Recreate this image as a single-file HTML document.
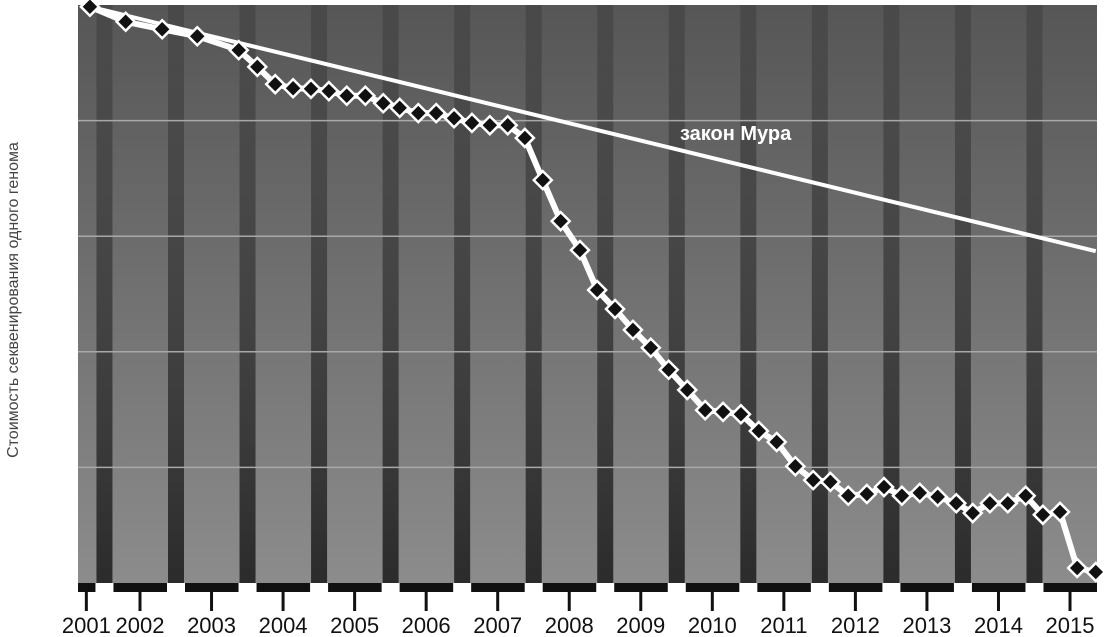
<!DOCTYPE html>
<html><head><meta charset="utf-8"><style>
html,body{margin:0;padding:0;background:#fff;}
svg{display:block;font-family:"Liberation Sans","Noto Sans CJK SC",sans-serif;}
</style></head><body>
<svg id="chart" width="1105" height="637" viewBox="0 0 1105 637" xmlns="http://www.w3.org/2000/svg">
<defs>
<linearGradient id="bg" x1="0" y1="0" x2="0" y2="1">
<stop offset="0" stop-color="#565656"/><stop offset="1" stop-color="#8c8c8c"/>
</linearGradient>
<linearGradient id="st" x1="0" y1="0" x2="0" y2="1">
<stop offset="0" stop-color="#222" stop-opacity="0.25"/><stop offset="1" stop-color="#1a1a1a" stop-opacity="0.85"/>
</linearGradient>
</defs>
<rect x="78" y="5" width="1019" height="578" fill="url(#bg)"/>
<g id="stripes"></g>
<g id="grid"></g>
<rect x="78" y="583" width="1019" height="9" fill="#111"/>
<g id="gaps"></g>
<g id="ticks"></g>
<text transform="translate(18,300) rotate(-90)" text-anchor="middle" font-size="16" fill="#444">Стоимость секвенирования одного генома</text>
<g id="series"></g>
<text x="680" y="140" font-size="20" font-weight="bold" fill="#fff">закон Мура</text>
</svg>
<script>
const yearTicks = [2001.25,2002,2003,2004,2005,2006,2007,2008,2009,2010,2011,2012,2013,2014,2015];
const yearLabels = ["2001","2002","2003","2004","2005","2006","2007","2008","2009","2010","2011","2012","2013","2014","2015"];
const gridValues = [20,40,60,80];
const costDates = [2001.30,2001.80,2002.31,2002.80,2003.38,2003.64,2003.89,2004.14,2004.39,2004.64,2004.89,2005.15,2005.40,2005.63,2005.89,2006.14,2006.39,2006.64,2006.89,2007.14,2007.38,2007.63,2007.88,2008.15,2008.39,2008.64,2008.89,2009.14,2009.39,2009.65,2009.90,2010.15,2010.40,2010.65,2010.90,2011.16,2011.41,2011.65,2011.90,2012.16,2012.40,2012.65,2012.90,2013.15,2013.41,2013.64,2013.88,2014.13,2014.38,2014.62,2014.86,2015.10,2015.36];
const costValues = [99.7,97.1,95.8,94.6,92.2,89.3,86.3,85.6,85.5,85.1,84.3,84.3,83.0,82.2,81.3,81.3,80.4,79.6,79.2,79.2,77.0,69.7,62.6,57.6,50.7,47.4,43.8,40.7,36.9,33.4,29.9,29.6,29.2,26.3,24.4,20.2,17.8,17.5,15.1,15.4,16.6,15.1,15.6,14.9,13.8,12.1,13.8,13.8,15.1,11.8,12.3,2.6,1.9];
const mooreDates = [2001.30,2015.36];
const mooreValues = [99.7,57.4];

const NS="http://www.w3.org/2000/svg";
const X = t => 140 + (t-2002)*71.54;
const Y = v => 583 - v*5.78;
function mk(tag, attrs, parent){const e=document.createElementNS(NS,tag);for(const k in attrs)e.setAttribute(k,attrs[k]);parent.appendChild(e);return e;}
const stripes=document.getElementById('stripes'), grid=document.getElementById('grid'), gaps=document.getElementById('gaps'), ticks=document.getElementById('ticks'), series=document.getElementById('series');
for(let y=2001;y<=2014;y++){
  const cx = X(y)+36;
  const s=mk('rect',{x:cx-8,y:5,width:16,height:578,fill:'url(#st)'},stripes);
  
  
  const g=mk('rect',{x:cx-9,y:583,width:18,height:9,fill:'#fff'},gaps);
  
  
}
gridValues.forEach(v=>{
  const l=mk('line',{x1:78,x2:1097,y1:Y(v),y2:Y(v),stroke:'#a8a8a8','stroke-width':1.5},grid);
  
  
});
yearTicks.forEach((t,i)=>{
  const l=mk('line',{x1:X(t),x2:X(t),y1:590,y2:611,stroke:'#111','stroke-width':3},ticks);
  
  
  const tx=mk('text',{x:X(t),y:633,'text-anchor':'middle','font-size':22,fill:'#111'},ticks);
  tx.textContent=yearLabels[i];
  
  
});
const ml=mk('line',{x1:X(mooreDates[0]),y1:Y(mooreValues[0]),x2:X(mooreDates[1]),y2:Y(mooreValues[1]),stroke:'#fff','stroke-width':4},series);


const pts=costDates.map((t,i)=>X(t)+','+Y(costValues[i])).join(' ');
const pl=mk('polyline',{points:pts,fill:'none',stroke:'#fff','stroke-width':6,'stroke-linejoin':'round'},series);


costDates.forEach((t,i)=>{
  const x=X(t), y=Y(costValues[i]), r=9;
  const d=mk('polygon',{points:`${x},${y-r} ${x+r},${y} ${x},${y+r} ${x-r},${y}`,fill:'#111',stroke:'#fff','stroke-width':2.5},series);
  
  
});
</script>
</body></html>
